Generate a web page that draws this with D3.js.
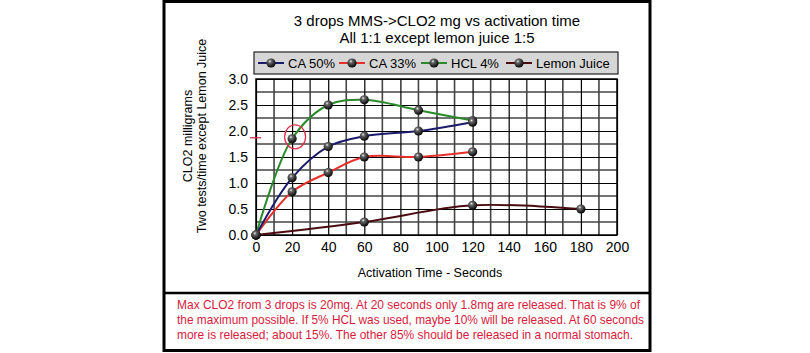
<!DOCTYPE html>
<html>
<head>
<meta charset="utf-8">
<script src="https://cdn.jsdelivr.net/npm/d3@7"></script>
<style>
	body { margin: 0; background: #fff; }
	text { font-family: "Liberation Sans", Arial, sans-serif; }
</style>
</head>
<body>
<div id="chart"></div>
<script>
'use strict';

// CLO2 released vs activation time, 3 drops MMS
const seriesNames = ["CA 50%", "CA 33%", "HCL 4%", "Lemon Juice"];
const seriesColors = ["#1b1b6b", "#e5302a", "#2b8a2b", "#4a0c10"];

const ca50 = [[0, 0], [20, 1.1], [40, 1.7], [60, 1.9], [90, 2.0], [120, 2.17]];
const ca33 = [[0, 0], [20, 0.83], [40, 1.2], [60, 1.5], [90, 1.5], [120, 1.6]];
const hcl4 = [[0, 0], [20, 1.85], [40, 2.5], [60, 2.6], [90, 2.4], [120, 2.2]];
const lemon = [[0, 0], [60, 0.25], [120, 0.57], [180, 0.5]];

const xTicks = [0, 20, 40, 60, 80, 100, 120, 140, 160, 180, 200];
const yTicks = [0, 0.5, 1.0, 1.5, 2.0, 2.5, 3.0];

const titleLines = ["3 drops MMS->CLO2 mg vs activation time", "All 1:1 except lemon juice 1:5"];
const yLabelLines = ["CLO2 milligrams", "Two tests/time except Lemon Juice"];
const xLabel = "Activation Time - Seconds";
const noteLines = [
	"Max CLO2 from 3 drops is 20mg. At 20 seconds only 1.8mg are released. That is 9% of",
	"the maximum possible. If 5% HCL was used, maybe 10% will be released. At 60 seconds",
	"more is released; about 15%. The other 85% should be released in a normal stomach."
];
// the hand-drawn mark sits on the HCL 20s point
const markedPoint = [20, 1.85];

const width = 810, height = 353;
const plot = { left: 256, right: 617, top: 79, bottom: 235 };

const svg = d3.select("#chart")
	.append("svg")
		.attr("width", width)
		.attr("height", height)
	;

// sphere look for the markers
const grad = svg.append("defs")
	.append("radialGradient")
		.attr("id", "ball")
		.attr("cx", "38%").attr("cy", "32%").attr("r", "70%")
	;
grad.append("stop").attr("offset", "0%").attr("stop-color", "#f0f0f0");
grad.append("stop").attr("offset", "25%").attr("stop-color", "#666");
grad.append("stop").attr("offset", "100%").attr("stop-color", "#000");

// frame
svg.append("rect")
	.attr("x", 164).attr("y", 1.5)
	.attr("width", 486).attr("height", 349)
	.attr("fill", "#fff")
	.attr("stroke", "#000")
	.attr("stroke-width", 3)
	;
svg.append("line")
	.attr("x1", 164).attr("x2", 650)
	.attr("y1", 293).attr("y2", 293)
	.attr("stroke", "#000")
	.attr("stroke-width", 2.5)
	;

const x = d3.scaleLinear()
	.domain([0, 200])
	.range([plot.left, plot.right])
	;
const y = d3.scaleLinear()
	.domain([0, 3])
	.range([plot.bottom, plot.top])
	;

// grid, minor lines first
const grid = svg.append("g");
grid.selectAll("line.vminor")
	.data(d3.range(10, 200, 20))
	.join("line")
		.attr("x1", d => x(d)).attr("x2", d => x(d))
		.attr("y1", plot.top).attr("y2", plot.bottom)
		.attr("stroke", "#444")
		.attr("stroke-width", 1.6)
	;
grid.selectAll("line.hminor")
	.data(d3.range(0.25, 3, 0.5))
	.join("line")
		.attr("x1", plot.left).attr("x2", plot.right)
		.attr("y1", d => y(d)).attr("y2", d => y(d))
		.attr("stroke", "#444")
		.attr("stroke-width", 1.6)
	;

const xAxis = svg.append("g")
	.attr("transform", `translate(0,${plot.bottom})`)
	.call(d3.axisBottom(x).tickValues(xTicks).tickSize(-(plot.bottom - plot.top)).tickPadding(7).tickFormat(d3.format("d")))
	;
const yAxis = svg.append("g")
	.attr("transform", `translate(${plot.left},0)`)
	.call(d3.axisLeft(y).tickValues(yTicks).tickSize(-(plot.right - plot.left)).tickPadding(8).tickFormat(d3.format(".1f")))
	;
[xAxis, yAxis].forEach(a => {
	a.select(".domain").remove();
	a.selectAll(".tick line").attr("stroke", "#000").attr("stroke-width", 1.2);
	a.selectAll(".tick text")
		.attr("fill", "#000")
		.attr("font-size", 14)
		.attr("font-family", "Liberation Sans, Arial, sans-serif")
		;
});
svg.append("rect")
	.attr("x", plot.left).attr("y", plot.top)
	.attr("width", plot.right - plot.left).attr("height", plot.bottom - plot.top)
	.attr("fill", "none")
	.attr("stroke", "#000")
	.attr("stroke-width", 1.5)
	;

// series
const allSeries = [ca50, ca33, hcl4, lemon];
const line = d3.line()
	.x(d => x(d[0]))
	.y(d => y(d[1]))
	.curve(d3.curveCatmullRom.alpha(0.5))
	;
// lemon at the back, CA 50% on top
const order = [3, 1, 2, 0];
order.forEach(i => {
	svg.append("path")
		.datum(allSeries[i])
		.attr("d", line)
		.attr("fill", "none")
		.attr("stroke", seriesColors[i])
		.attr("stroke-width", 2)
		;
});
order.forEach(i => {
	svg.append("g")
		.selectAll("circle")
		.data(allSeries[i])
		.join("circle")
			.attr("cx", d => x(d[0]))
			.attr("cy", d => y(d[1]))
			.attr("r", 4.6)
			.attr("fill", "url(#ball)")
		;
});

// titles
svg.append("g")
	.selectAll("text")
	.data(titleLines)
	.join("text")
		.attr("x", 437)
		.attr("y", (d, i) => 26 + i * 17)
		.attr("text-anchor", "middle")
		.attr("font-size", 15)
		.text(d => d)
	;
svg.append("g")
	.selectAll("text")
	.data(yLabelLines)
	.join("text")
		.attr("transform", (d, i) => `translate(${192 + i * 14},136) rotate(-90)`)
		.attr("text-anchor", "middle")
		.attr("font-size", 12.5)
		.text(d => d)
	;
svg.append("text")
	.attr("x", 430)
	.attr("y", 277)
	.attr("text-anchor", "middle")
	.attr("font-size", 12.5)
	.text(xLabel)
	;

// legend
const legend = svg.append("g");
legend.append("rect")
	.attr("x", 254).attr("y", 52)
	.attr("width", 364).attr("height", 22)
	.attr("fill", "#d6d6d6")
	.attr("stroke", "#222")
	.attr("stroke-width", 1.2)
	;
const legendX = [258, 339, 421, 506];
const item = legend.selectAll("g.item")
	.data(seriesNames)
	.join("g")
		.attr("transform", (d, i) => `translate(${legendX[i]},63)`)
	;
item.append("line")
	.attr("x1", 0).attr("x2", 26)
	.attr("stroke", (d, i) => seriesColors[i])
	.attr("stroke-width", 2)
	;
item.append("circle")
	.attr("cx", 13)
	.attr("r", 4.6)
	.attr("fill", "url(#ball)")
	;
item.append("text")
	.attr("x", 30)
	.attr("dy", "0.36em")
	.attr("font-size", 13)
	.text(d => d)
	;

// hand drawn red marks
svg.append("ellipse")
	.attr("cx", x(markedPoint[0]) + 3)
	.attr("cy", y(markedPoint[1]) - 2)
	.attr("rx", 10.5)
	.attr("ry", 12)
	.attr("fill", "none")
	.attr("stroke", "#e0304a")
	.attr("stroke-width", 1.3)
	;
svg.append("line")
	.attr("x1", x(0) - 6).attr("x2", x(0) + 5)
	.attr("y1", y(1.87)).attr("y2", y(1.87))
	.attr("stroke", "#e0304a")
	.attr("stroke-width", 1.3)
	;

// note box, stretched to the widths seen in the picture
const noteWidths = [463, 467, 456];
svg.append("g")
	.selectAll("text")
	.data(noteLines)
	.join("text")
		.attr("x", 177)
		.attr("y", (d, i) => 309 + i * 15)
		.attr("font-size", 12.6)
		.attr("fill", "#d81b3c")
		.attr("textLength", (d, i) => noteWidths[i])
		.attr("lengthAdjust", "spacingAndGlyphs")
		.text(d => d)
	;
</script>
</body>
</html>
